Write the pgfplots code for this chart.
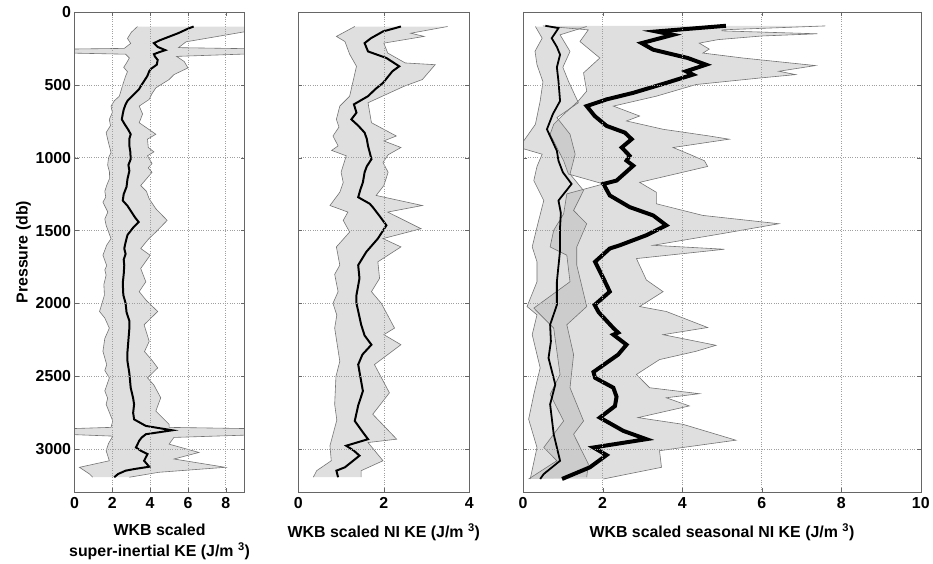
\documentclass[border=0pt]{standalone}
\usepackage{pgfplots}
\pgfplotsset{compat=1.18}
\usepgfplotslibrary{fillbetween}
\usepackage{fontspec}
\setmainfont{Liberation Sans}
\definecolor{bandfill}{gray}{0.69}
\definecolor{edgec}{gray}{0.45}
\definecolor{framec}{gray}{0.40}
\pgfplotsset{
 base/.style={scale only axis, height=483pt, y dir=reverse, ymin=0, ymax=3295,
   ytick={0,500,...,3000}, grid=major,
   major grid style={dotted, line width=0.6pt, gray!75},
   axis line style={framec}, tick style={framec}, tick align=inside, major tick length=4pt,
   set layers, axis on top,
   ticklabel style={font=\fontsize{16}{18}\selectfont\bfseries},
   xticklabel style={yshift=-2pt},
   label style={font=\fontsize{16}{21.5}\selectfont\bfseries},
   xlabel style={yshift=-8pt},
   /pgf/number format/assume math mode=true,
   /pgf/number format/1000 sep={}, scaled ticks=false,
   anchor=south west},
 edgeline/.style={edgec, line width=0.6pt},
 band/.style={fill=bandfill, fill opacity=0.4, draw=none},
}
\begin{document}
\begin{tikzpicture}
\path (0,0) rectangle (933pt,563pt);

% ---------- Panel 1 ----------
\begin{axis}[base, at={(75pt,68pt)}, width=171pt, xmin=0, xmax=9, xtick={0,2,4,6,8},
  ylabel={Pressure (db)}, ylabel style={yshift=-2pt},
  xlabel={WKB scaled\\super-inertial KE (J/m \textsuperscript{3})}, xlabel style={align=center}]
\addplot[edgeline, name path=lo1] table {
3.33 100
3.0 140
2.8 182
2.97 216
2.63 250
-1 256
-1 280
2.7 290
2.9 316
2.75 350
2.6 380
2.8 410
2.7 441
2.55 500
2.37 578
2.1 610
1.93 646
2.0 690
1.84 737
1.9 780
1.67 828
1.8 900
1.93 964
1.8 1000
1.75 1050
1.85 1100
1.84 1146
1.7 1190
1.6 1230
1.65 1270
1.5 1305
1.76 1373
1.6 1420
1.67 1464
1.93 1555
1.7 1600
1.5 1669
1.7 1740
1.6 1770
1.67 1805
1.55 1870
1.58 1942
1.45 2000
1.32 2055
1.6 2100
1.84 2169
1.6 2240
1.5 2328
1.7 2420
1.6 2460
1.84 2510
1.6 2600
1.75 2650
1.67 2692
1.85 2750
2.02 2806
1.93 2850
-1 2862
-1 2895
2.02 2910
1.8 2960
1.67 3010
1.84 3079
0.26 3124
0.79 3170
0.96 3192
};
\addplot[edgeline, name path=up1] table {
9.5 100
9.1 134
5.9 205
5.5 245
11 256
11 280
5.4 305
5.8 340
6.0 384
5.26 430
5.0 464
4.3 521
4.1 560
3.95 600
3.42 646
3.6 700
3.42 760
4.3 839
3.86 873
3.9 930
4.2 960
3.86 987
4.1 1040
3.9 1070
4.1 1100
3.5 1191
3.8 1230
3.95 1282
4.3 1350
4.9 1430
4.3 1510
3.9 1560
3.5 1623
4.0 1669
3.5 1760
3.77 1851
3.42 1919
3.8 1980
4.4 2055
3.68 2146
3.95 2260
3.7 2330
4.1 2390
4.4 2442
3.86 2510
4.2 2560
4.56 2647
4.3 2738
5.0 2829
5.0 2850
11 2862
11 2895
5.26 2919
5.0 2965
6.58 3022
5.26 3067
7.98 3124
4.47 3158
2.9 3192
};
\addplot[band] fill between[of=lo1 and up1, reverse=true];
\addplot[black, line width=2pt] table {
6.3 100
6.0 115
5.5 145
5.0 170
4.5 195
4.2 214
4.4 240
4.8 262
4.5 275
4.2 290
4.25 305
4.4 330
4.35 362
4.05 390
3.95 407
3.85 440
3.7 470
3.55 500
3.4 532
3.1 570
2.8 610
2.7 634
2.6 670
2.55 700
2.5 737
2.65 770
2.85 810
2.97 839
2.9 870
2.9 919
2.95 960
2.97 1010
2.85 1050
2.9 1090
2.8 1146
2.75 1200
2.6 1250
2.55 1294
2.8 1330
3.0 1370
3.2 1410
3.39 1441
3.1 1480
2.8 1530
2.7 1580
2.63 1623
2.7 1660
2.6 1700
2.63 1737
2.6 1800
2.55 1860
2.58 1942
2.7 1999
2.75 2060
2.9 2120
2.9 2169
2.85 2250
2.8 2330
2.8 2397
2.9 2480
2.97 2578
3.1 2650
3.15 2692
3.1 2750
3.15 2795
3.77 2840
5.17 2870
3.77 2897
3.55 2920
3.42 2942
3.25 2988
3.5 3010
3.86 3033
3.68 3079
3.95 3120
3.2 3135
2.7 3147
2.3 3170
2.1 3192
};
\end{axis}

% ---------- Panel 2 ----------
\begin{axis}[base, at={(300pt,68pt)}, width=172pt, xmin=0, xmax=4, xtick={0,2,4},
  yticklabels={}, xlabel={WKB scaled NI KE (J/m \textsuperscript{3})}]
\addplot[edgeline, name path=lo2] table {
1.32 100
0.89 168
1.09 203
1.2 290
1.36 373
1.3 450
1.2 578
0.97 646
0.89 737
0.95 790
0.81 851
0.93 919
0.78 950
1.12 987
1.0 1100
1.05 1170
0.97 1237
0.74 1328
1.16 1373
1.05 1430
1.2 1510
0.89 1612
0.97 1737
0.85 1800
0.93 1919
0.81 1999
0.9 2080
0.85 2169
0.97 2397
0.88 2500
0.85 2692
0.9 2800
0.74 2976
0.77 3079
0.43 3147
0.35 3192
};
\addplot[edgeline, name path=up2] table {
3.49 100
2.63 146
2.94 168
2.0 214
2.09 282
2.5 350
3.2 362
2.9 464
2.48 509
1.63 623
1.71 760
2.29 851
2.0 885
2.4 930
2.1 980
1.98 1033
2.1 1100
2.0 1191
1.82 1259
2.9 1328
2.09 1373
2.87 1487
1.98 1555
2.4 1612
1.86 1714
1.9 1828
1.71 1919
1.94 1999
2.25 2169
2.0 2214
2.4 2283
1.78 2419
2.13 2613
1.74 2760
2.3 2931
1.63 2954
1.98 3079
1.47 3147
1.47 3192
};
\addplot[band] fill between[of=lo2 and up2, reverse=true];
\addplot[black, line width=2pt] table {
2.4 100
1.98 134
1.7 180
1.55 214
1.63 271
2.06 316
2.36 373
2.2 407
1.98 487
1.8 530
1.63 578
1.3 634
1.36 691
1.24 737
1.4 780
1.55 828
1.6 870
1.63 919
1.71 1010
1.6 1060
1.55 1100
1.51 1169
1.45 1220
1.4 1271
1.67 1316
1.74 1339
1.9 1400
2.06 1464
1.86 1555
1.59 1646
1.4 1737
1.43 1828
1.36 1942
1.36 1999
1.47 2146
1.55 2220
1.71 2283
1.5 2350
1.4 2419
1.51 2601
1.4 2700
1.32 2806
1.5 2880
1.63 2931
1.12 2976
1.3 3010
1.43 3044
1.09 3124
0.89 3147
0.93 3192
};
\end{axis}

% ---------- Panel 3 ----------
\begin{axis}[base, at={(526pt,68pt)}, width=400pt, xmin=0, xmax=10, xtick={0,2,4,6,8,10},
  yticklabels={}, xlabel={WKB scaled seasonal NI KE (J/m \textsuperscript{3})}]
\addplot[edgeline, name path=lo3a] table {
0.31 100
0.48 180
0.3 270
0.35 362
0.5 480
0.43 611
0.31 771
-0.1 930
0.48 976
0.35 1060
0.27 1157
0.52 1294
0.35 1476
0.23 1612
0.35 1714
0.35 1851
0.1 2021
0.35 2078
0.23 2214
0.43 2442
0.27 2624
0.14 2794
0.35 2988
0.18 3204
};
\addplot[edgeline, name path=up3a] table {
1.6 100
0.93 157
1.18 271
1.0 380
1.14 475
1.39 623
0.85 725
1.18 839
1.31 976
1.18 1112
1.52 1225
1.27 1362
1.6 1453
1.35 1612
1.35 1737
1.6 2021
1.1 2146
1.27 2351
1.18 2578
1.52 2806
1.27 2897
1.64 3101
1.6 3192
};
\addplot[edgeline, name path=lo3b] table {
0.5 96
1.64 123
1.43 203
1.93 316
1.52 418
1.6 543
1.39 611
1.02 703
0.77 771
0.68 839
0.85 930
1.02 1021
1.14 1112
2.02 1180
1.1 1248
1.02 1385
0.77 1498
0.68 1612
1.1 1669
1.18 1851
0.27 2032
0.77 2169
0.93 2487
0.68 2624
1.02 2806
0.52 2988
0.85 3079
0.14 3204
};
\addplot[edgeline, name path=up3b] table {
7.6 96
5.0 123
5.0 130
7.4 150
6.0 165
4.9 190
4.43 214
4.68 255
4.52 282
5.52 316
7.35 368
6.43 407
6.85 430
6.0 452
4.35 498
3.35 578
2.27 646
2.93 714
2.6 748
3.52 805
4.68 851
5.18 873
3.77 930
4.18 976
4.56 1021
4.64 1060
2.93 1169
3.35 1237
3.35 1316
4.52 1396
6.43 1453
5.0 1521
3.27 1601
5.06 1628
2.85 1692
3.1 1839
3.52 1919
2.93 2021
3.6 2055
4.64 2165
3.52 2214
4.85 2287
4.35 2328
3.43 2385
2.85 2487
3.18 2578
4.43 2619
3.6 2647
4.18 2703
2.89 2783
4.02 2829
5.35 2938
3.43 3010
3.48 3124
2.02 3204
};
\addplot[band] fill between[of=lo3a and up3a, reverse=true];
\addplot[band] fill between[of=lo3b and up3b, reverse=true];
\addplot[black, line width=1.8pt] table {
0.56 95
0.89 111
0.72 180
0.85 240
0.93 293
0.85 380
0.89 475
0.93 611
0.75 700
0.6 805
0.85 953
0.89 1021
1.0 1100
1.22 1180
0.89 1294
0.95 1380
0.93 1476
0.93 1635
0.85 1851
0.85 2010
0.68 2146
0.7 2260
0.64 2374
0.81 2556
0.68 2692
0.77 2897
0.93 3079
0.52 3170
0.43 3204
};
\addplot[black, line width=4pt] table {
5.1 95
3.35 134
3.77 157
2.98 214
3.27 259
4.14 316
4.6 362
4.1 407
4.27 430
3.6 487
2.77 555
2.1 600
1.6 646
1.8 714
2.1 782
2.56 828
2.73 873
2.48 930
2.68 987
2.6 1020
2.77 1055
2.35 1157
2.02 1180
2.18 1259
2.68 1339
3.27 1396
3.6 1464
3.1 1532
2.43 1601
2.18 1623
1.81 1714
2.02 1828
2.18 1919
1.8 2010
1.9 2060
2.27 2169
2.39 2200
2.27 2214
2.6 2283
2.39 2351
1.77 2470
1.81 2510
2.27 2578
2.35 2640
2.31 2704
1.93 2783
2.52 2874
3.1 2931
1.77 2988
2.1 3040
1.68 3124
0.98 3204
};
\end{axis}
\end{tikzpicture}
\end{document}
